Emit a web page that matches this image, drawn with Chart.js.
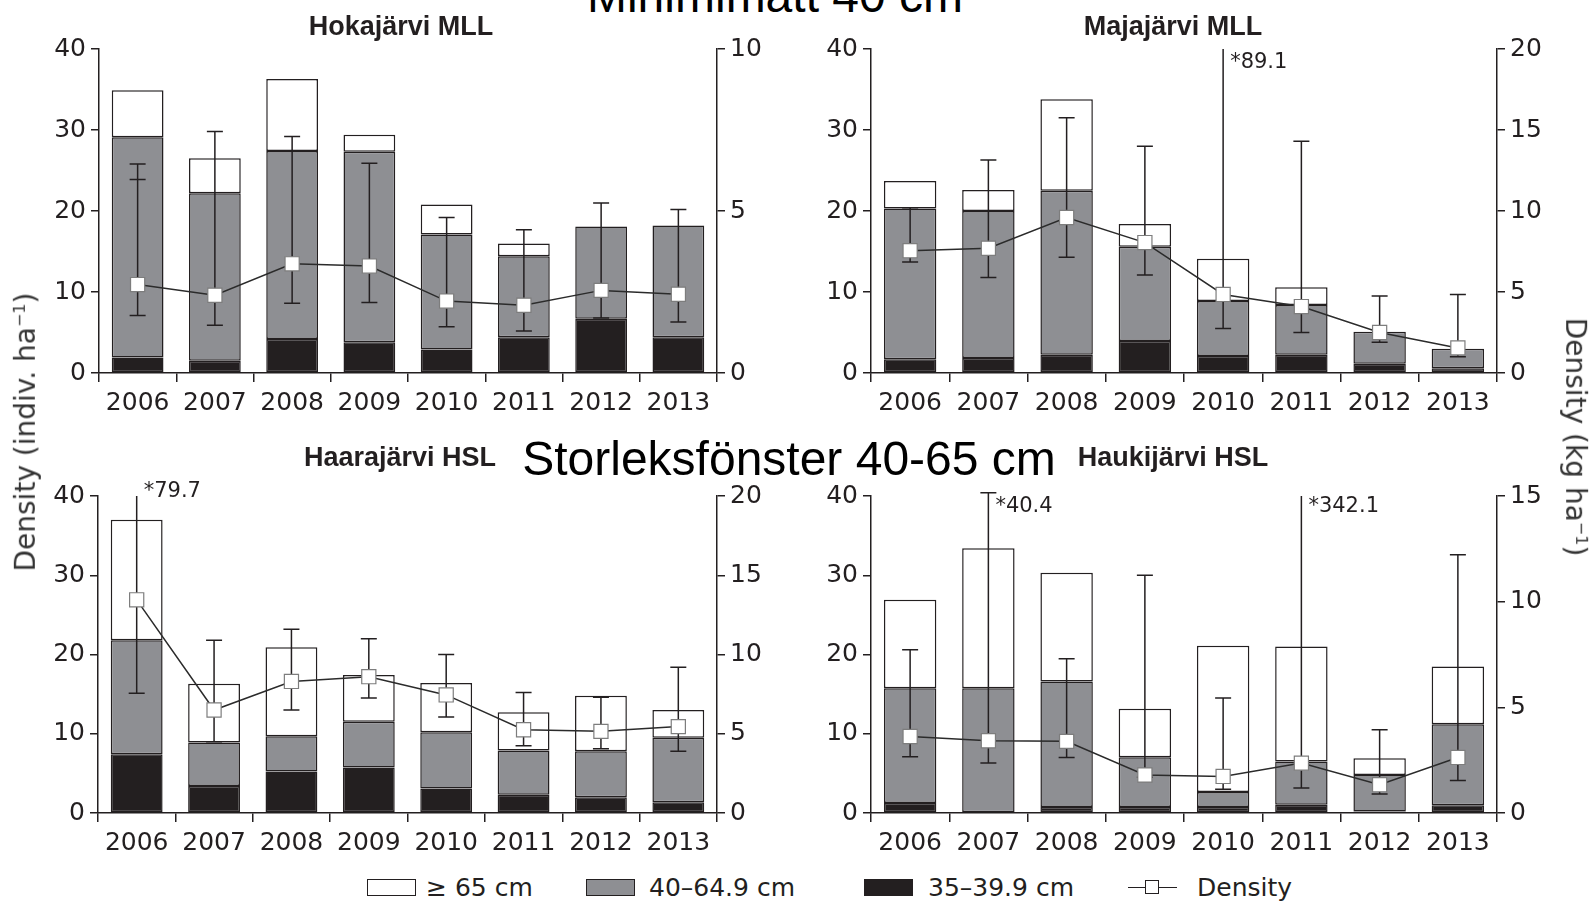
<!DOCTYPE html>
<html>
<head>
<meta charset="utf-8">
<script src="https://cdn.jsdelivr.net/npm/chart.js@4/dist/chart.umd.min.js"></script>
<style>
  body { margin: 0; width: 1590px; height: 901px; background: #fff; position: relative; overflow: hidden; font-family: "DejaVu Sans", sans-serif; color: #231f20; }
  canvas { position: absolute; }
  .txt { position: absolute; white-space: nowrap; line-height: 1; }
  .panel-title { font-family: "Liberation Sans", Arial, sans-serif; font-weight: bold; font-size: 27px; transform: translateX(-50%); }
  .big { font-family: "Liberation Sans", Arial, sans-serif; font-size: 48px; color: #000; transform: translateX(-50%); }
  .axis-title { font-size: 28px; color: #333; }
  .lg-box { position: absolute; height: 17px; width: 49px; border: 1.5px solid #231f20; box-sizing: border-box; }
  .lg-text { position: absolute; font-size: 25px; line-height: 1; white-space: nowrap; }
</style>
</head>
<body>
<canvas id="hoka" width="758" height="394" style="left:29px;top:29px"></canvas>
<canvas id="maja" width="766" height="394" style="left:801px;top:29px"></canvas>
<canvas id="haara" width="759" height="387" style="left:28px;top:476px"></canvas>
<canvas id="hauki" width="766" height="387" style="left:801px;top:476px"></canvas>

<div class="txt big" style="left:775px;top:-28px">Minimimått 40 cm</div>
<div class="txt big" style="left:789px;top:435px">Storleksfönster 40-65 cm</div>

<div class="txt panel-title" style="left:401px;top:13px">Hokajärvi MLL</div>
<div class="txt panel-title" style="left:1173px;top:13px">Majajärvi MLL</div>
<div class="txt panel-title" style="left:400px;top:444px">Haarajärvi HSL</div>
<div class="txt panel-title" style="left:1173px;top:444px">Haukijärvi HSL</div>

<div class="txt axis-title" style="left:26px;top:432px;transform:translate(-50%,-50%) rotate(-90deg)">Density (indiv. ha<sup style="font-size:16px">−1</sup>)</div>
<div class="txt axis-title" style="left:1575px;top:437px;transform:translate(-50%,-50%) rotate(90deg)">Density (kg ha<sup style="font-size:16px">−1</sup>)</div>

<div class="lg-box" style="left:367px;top:879px;background:#fff"></div>
<div class="lg-text" style="left:426px;top:875px">≥ 65 cm</div>
<div class="lg-box" style="left:586px;top:879px;background:#8e8f93"></div>
<div class="lg-text" style="left:649px;top:875px">40–64.9 cm</div>
<div class="lg-box" style="left:864px;top:879px;background:#231f20"></div>
<div class="lg-text" style="left:928px;top:875px">35–39.9 cm</div>
<div style="position:absolute;left:1128px;top:887px;width:49px;border-top:1.5px solid #231f20"></div>
<div style="position:absolute;left:1145px;top:880px;width:14px;height:14px;border:1.2px solid #231f20;background:#fff;box-sizing:border-box"></div>
<div class="lg-text" style="left:1197px;top:875px">Density</div>

<script>
const years = ["2006", "2007", "2008", "2009", "2010", "2011", "2012", "2013"];

// Hokajärvi MLL (indiv. ha-1 per size class, kg ha-1 for density line)
const hokaSmall = [1.9, 1.5, 4.2, 3.8, 2.9, 4.4, 6.7, 4.4];
const hokaMid = [27.2, 20.7, 23.2, 23.5, 14.2, 10.0, 11.4, 13.8];
const hokaLarge = [5.8, 4.3, 8.9, 2.1, 3.7, 1.6, 0, 0];
const hokaKg = [2.73, 2.4, 3.37, 3.3, 2.22, 2.09, 2.55, 2.43];
const hokaErrLow = [7.1, 5.9, 8.6, 8.7, 5.7, 5.2, 6.8, 6.3];
const hokaErrHigh = [25.8, 29.8, 29.2, 25.9, 19.2, 17.7, 21.0, 20.2];
const hokaErrCap2 = [23.9, null, null, null, null, null, null, null];

// Majajärvi MLL
const majaSmall = [1.7, 1.85, 2.26, 3.95, 2.1, 2.26, 1.15, 0.6];
const majaMid = [18.6, 18.15, 20.24, 11.65, 6.8, 6.14, 3.95, 2.4];
const majaLarge = [3.4, 2.6, 11.3, 2.8, 5.2, 2.2, 0, 0];
const majaKg = [7.55, 7.7, 9.6, 8.05, 4.85, 4.1, 2.5, 1.55];
const majaErrLow = [13.7, 11.8, 14.3, 12.1, 5.5, 5.0, 3.8, 2.0];
const majaErrHigh = [20.4, 26.3, 31.5, 28.0, 89.1, 28.6, 9.5, 9.7];

// Haarajärvi HSL
const haaraSmall = [7.4, 3.4, 5.25, 5.75, 3.1, 2.3, 2.0, 1.35];
const haaraMid = [14.4, 5.5, 4.45, 5.75, 7.1, 5.6, 5.8, 8.15];
const haaraLarge = [15.2, 7.4, 11.2, 5.9, 6.2, 4.8, 7.0, 3.5];
const haaraKg = [13.45, 6.5, 8.3, 8.6, 7.45, 5.25, 5.15, 5.45];
const haaraErrLow = [15.1, 9.0, 13.0, 14.5, 12.1, 8.5, 8.1, 7.8];
const haaraErrHigh = [79.7, 21.8, 23.2, 22.0, 20.0, 15.2, 14.6, 18.4];

// Haukijärvi HSL
const haukiSmall = [1.26, 0, 0.75, 0.75, 0.75, 1.05, 0.2, 0.97];
const haukiMid = [14.49, 15.75, 15.85, 6.3, 1.9, 5.45, 4.6, 10.23];
const haukiLarge = [11.15, 17.65, 13.7, 6.1, 18.45, 14.5, 2.1, 7.3];
const haukiKg = [3.62, 3.42, 3.39, 1.8, 1.73, 2.36, 1.34, 2.63];
const haukiErrLow = [7.1, 6.3, 7.0, 4.5, 3.0, 3.15, 2.4, 4.1];
const haukiErrHigh = [20.6, 40.4, 19.45, 30.0, 14.5, 342.1, 10.5, 32.6];

const leftMax = 40;
const hokaRightMax = 10;
const majaRightMax = 20;
const haaraRightMax = 20;
const haukiRightMax = 15;

const INK = "#231f20";
const GREY = "#8e8f93";

Chart.defaults.font.family = "'DejaVu Sans', sans-serif";
Chart.defaults.color = INK;

const errorBars = {
  id: "errorBars",
  beforeDatasetDraw(chart, args, opts) {
    if (args.index !== 3) return;
    const { ctx, chartArea } = chart;
    const xs = chart.scales.x;
    const ys = chart.scales.y;
    const cap = 8;
    ctx.save();
    ctx.strokeStyle = INK;
    ctx.lineWidth = 1.5;
    ctx.fillStyle = INK;
    ctx.font = "21px 'DejaVu Sans'";
    ctx.textBaseline = "middle";
    opts.low.forEach((lo, i) => {
      const px = xs.getPixelForValue(i);
      const loPx = ys.getPixelForValue(lo);
      const hiPx = ys.getPixelForValue(opts.high[i]);
      const hasCap = hiPx >= chartArea.top - 4;
      const topPx = hasCap ? hiPx : chartArea.top;
      ctx.beginPath();
      ctx.moveTo(px, loPx);
      ctx.lineTo(px, topPx);
      ctx.moveTo(px - cap, loPx);
      ctx.lineTo(px + cap, loPx);
      if (hasCap) {
        ctx.moveTo(px - cap, hiPx);
        ctx.lineTo(px + cap, hiPx);
      }
      if (opts.cap2 && opts.cap2[i] != null) {
        const c2 = ys.getPixelForValue(opts.cap2[i]);
        ctx.moveTo(px - cap, c2);
        ctx.lineTo(px + cap, c2);
      }
      ctx.stroke();
      if (opts.high[i] > ys.max) {
        ctx.fillText("*" + opts.high[i], px + 7, chartArea.top + opts.starDy);
      }
    });
    ctx.restore();
  },
};

function buildPanel(id, small, mid, large, kg, low, high, rightMax, extra) {
  const sideW = 70;
  return new Chart(document.getElementById(id), {
    type: "bar",
    data: {
      labels: years,
      datasets: [
        { label: "35–39.9 cm", data: small, backgroundColor: INK, borderColor: INK, borderWidth: 1.5, borderSkipped: false, yAxisID: "y", order: 1 },
        { label: "40–64.9 cm", data: mid, backgroundColor: GREY, borderColor: INK, borderWidth: 1.5, borderSkipped: false, yAxisID: "y", order: 1 },
        { label: "≥ 65 cm", data: large, backgroundColor: "#ffffff", borderColor: INK, borderWidth: 1.5, borderSkipped: false, yAxisID: "y", order: 1 },
        {
          type: "line",
          label: "Density",
          data: kg,
          yAxisID: "y1",
          borderColor: "#2b2b2b",
          borderWidth: 1.5,
          pointStyle: "rect",
          pointRadius: 10,
          pointBackgroundColor: "#ffffff",
          pointBorderColor: "#7d7d7d",
          pointBorderWidth: 1.2,
          order: 0,
        },
      ],
    },
    options: {
      responsive: false,
      animation: false,
      events: [],
      layout: { padding: { top: 20, left: 0, right: 0, bottom: 0 } },
      datasets: { bar: { barPercentage: 0.67, categoryPercentage: 1 } },
      plugins: {
        legend: { display: false },
        tooltip: { enabled: false },
        errorBars: { low, high, cap2: extra.cap2, starDy: extra.starDy },
      },
      scales: {
        x: {
          stacked: true,
          grid: { offset: true, drawOnChartArea: false, tickLength: 9, color: INK, lineWidth: 1.5 },
          border: { color: INK, width: 1.5 },
          ticks: { font: { size: 25 }, padding: 6, maxRotation: 0, autoSkip: false },
          afterFit(scale) { scale.height = 50; },
        },
        y: {
          stacked: true,
          min: 0,
          max: leftMax,
          grid: { drawOnChartArea: false, tickLength: 8, color: INK, lineWidth: 1.5 },
          border: { color: INK, width: 1.5 },
          ticks: { stepSize: 10, font: { size: 25 }, padding: 5 },
          afterFit(scale) { scale.width = sideW; },
        },
        y1: {
          position: "right",
          min: 0,
          max: rightMax,
          grid: { drawOnChartArea: false, tickLength: 8, color: INK, lineWidth: 1.5 },
          border: { color: INK, width: 1.5 },
          ticks: { stepSize: 5, font: { size: 25 }, padding: 5 },
          afterFit(scale) { scale.width = sideW; },
        },
      },
    },
    plugins: [errorBars],
  });
}

buildPanel("hoka", hokaSmall, hokaMid, hokaLarge, hokaKg, hokaErrLow, hokaErrHigh, hokaRightMax, { cap2: hokaErrCap2, starDy: 14 });
buildPanel("maja", majaSmall, majaMid, majaLarge, majaKg, majaErrLow, majaErrHigh, majaRightMax, { starDy: 14 });
buildPanel("haara", haaraSmall, haaraMid, haaraLarge, haaraKg, haaraErrLow, haaraErrHigh, haaraRightMax, { starDy: -4 });
buildPanel("hauki", haukiSmall, haukiMid, haukiLarge, haukiKg, haukiErrLow, haukiErrHigh, haukiRightMax, { starDy: 11 });
</script>
</body>
</html>
